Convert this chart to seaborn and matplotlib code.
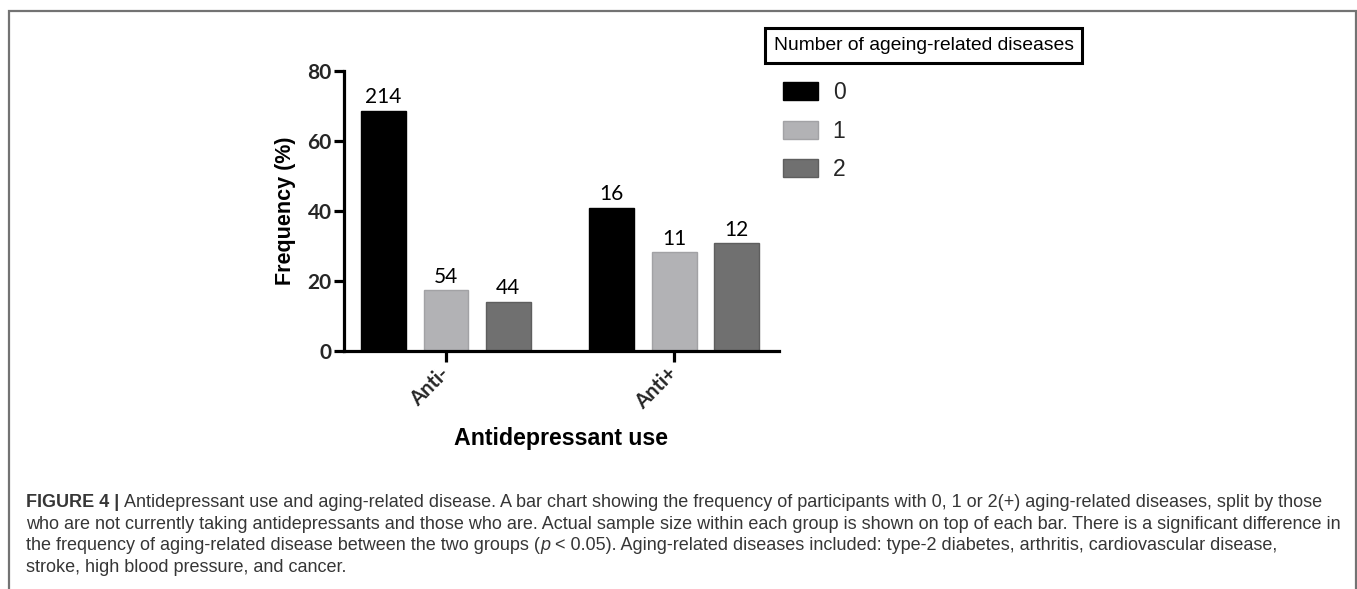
import matplotlib
matplotlib.use("Agg")
import matplotlib.pyplot as plt
import seaborn as sns
import pandas as pd
from matplotlib.patches import Rectangle, Patch

# ---------------- data ----------------
groups = ["Anti-", "Anti+"]
disease_levels = ["0", "1", "2"]
freq_anti_minus = [68.6, 17.3, 14.1]
freq_anti_plus = [41.0, 28.2, 30.8]
n_anti_minus = [214, 54, 44]
n_anti_plus = [16, 11, 12]
y_ticks = [0, 20, 40, 60, 80]
legend_title = "Number of ageing-related diseases"
x_label = "Antidepressant use"
y_label = "Frequency (%)"

caption_lines = [
    [("FIGURE 4 |", "bold"), ("Antidepressant use and aging-related disease. A bar chart showing the frequency of participants with 0, 1 or 2(+) aging-related diseases, split by those", "normal")],
    [("who are not currently taking antidepressants and those who are. Actual sample size within each group is shown on top of each bar. There is a significant difference in", "normal")],
    [("the frequency of aging-related disease between the two groups (", "normal"), ("p", "italic"), ("< 0.05). Aging-related diseases included: type-2 diabetes, arthritis, cardiovascular disease,", "normal")],
    [("stroke, high blood pressure, and cancer.", "normal")],
]

colors = ["#000000", "#b2b2b5", "#707070"]
edge_colors = ["#000000", "#a2a2a5", "#5e5e5e"]

df = pd.DataFrame({
    "group": [g for g in groups for _ in disease_levels],
    "level": disease_levels * 2,
    "freq": freq_anti_minus + freq_anti_plus,
})

sns.set_theme(style="white")
plt.rcParams["font.family"] = ["Liberation Sans", "DejaVu Sans"]

W, H = 1357, 589
fig = plt.figure(figsize=(W / 100, H / 100), dpi=100)
fig.patch.set_facecolor("white")
ax = fig.add_axes([344 / W, 1 - 351 / H, (779 - 344) / W, (351 - 71) / H])

sns.barplot(data=df, x="group", y="freq", hue="level", order=groups,
            hue_order=disease_levels, palette=colors, saturation=1,
            width=0.82, gap=0.28, ax=ax, errorbar=None)

for i, cont in enumerate(ax.containers):
    for p in cont:
        p.set_edgecolor(edge_colors[i])
        p.set_linewidth(1.0)
    ax.bar_label(cont, labels=[str(n_anti_minus[i]), str(n_anti_plus[i])],
                 padding=2.5, fontsize=15, family=["Lato", "DejaVu Sans"],
                 color="black")

if ax.get_legend() is not None:
    ax.get_legend().remove()

ax.set_xlim(-0.447, 1.46)
ax.set_ylim(0, 80)
ax.set_yticks(y_ticks)
ax.set_yticklabels([str(v) for v in y_ticks])

for s in ["top", "right"]:
    ax.spines[s].set_visible(False)
for s in ["left", "bottom"]:
    ax.spines[s].set_linewidth(2.3)
    ax.spines[s].set_color("black")

ax.tick_params(axis="y", direction="out", length=7.5, width=2.3, pad=1.5,
               labelsize=15, color="black", left=True)
ax.tick_params(axis="x", direction="out", length=8, width=2.3, pad=6,
               labelsize=14.5, color="black", bottom=True)
for lbl in ax.get_yticklabels():
    lbl.set_fontfamily(["Lato", "DejaVu Sans"])
    lbl.set_fontweight("bold")
for lbl in ax.get_xticklabels():
    lbl.set_fontfamily(["Lato", "DejaVu Sans"])
    lbl.set_fontweight("bold")
    lbl.set_rotation(45)
    lbl.set_ha("right")
    lbl.set_va("center")
    lbl.set_rotation_mode("anchor")

ax.set_xlabel(x_label, fontsize=16.7, fontweight="bold", color="black")
ax.set_ylabel(y_label, fontsize=15.5, fontweight="bold", color="black")
ax.xaxis.set_label_coords(0.5, (351 - 438) / 280)
ax.xaxis.label.set_va("center")
ax.yaxis.set_label_coords((285 - 344) / 435, 0.5)
ax.yaxis.label.set_va("center")

# ---------------- legend ----------------
handles = [Patch(facecolor=colors[i], edgecolor=edge_colors[i], linewidth=1.0)
           for i in range(len(disease_levels))]
fig.legend(handles, disease_levels, loc="upper left",
           bbox_to_anchor=(783 / W, 1 - 81 / H), bbox_transform=fig.transFigure,
           frameon=False, fontsize=16.5, handlelength=1.52, handleheight=0.83,
           handletextpad=0.65, labelspacing=0.68, borderpad=0, borderaxespad=0)

fig.add_artist(Rectangle((765 / W, 1 - 63 / H), 317 / W, 35 / H,
                         transform=fig.transFigure, fill=False,
                         edgecolor="black", linewidth=2.2))
fig.text(923.5 / W, 1 - 45.5 / H, legend_title, ha="center", va="center",
         fontsize=13.9, color="black")

# ---------------- outer frame ----------------
fig.add_artist(Rectangle((8.5 / W, -0.1), (1355.5 - 8.5) / W, 1 - 11 / H + 0.1,
                         transform=fig.transFigure, fill=False,
                         edgecolor="#737373", linewidth=1.6, clip_on=False))

# ---------------- caption ----------------
cap_fs = 13.0
cap_color = "#363636"
renderer = fig.canvas.get_renderer()
space_px = 0.278 * cap_fs * 100 / 72
baselines = [507, 528.7, 550.4, 572.1]
for line, yb in zip(caption_lines, baselines):
    x = 26
    for txt, style in line:
        kw = {}
        if style == "bold":
            kw["fontweight"] = "bold"
        elif style == "italic":
            kw["fontstyle"] = "italic"
        t = fig.text(x / W, 1 - yb / H, txt, ha="left", va="baseline",
                     fontsize=cap_fs, color=cap_color, **kw)
        bb = t.get_window_extent(renderer)
        x += bb.width
        if not txt.endswith("("):
            x += space_px

fig.savefig("out.png", dpi=100, facecolor="white")
